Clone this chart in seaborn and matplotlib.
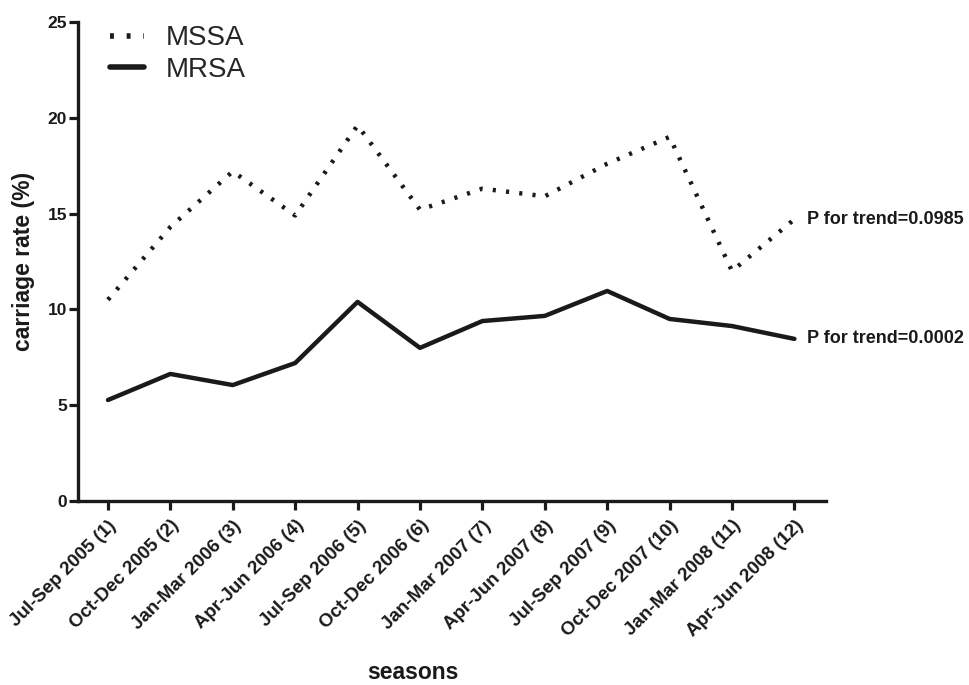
import pandas as pd
import seaborn as sns
import matplotlib.pyplot as plt

seasons = [
    "Jul-Sep 2005 (1)", "Oct-Dec 2005 (2)", "Jan-Mar 2006 (3)", "Apr-Jun 2006 (4)",
    "Jul-Sep 2006 (5)", "Oct-Dec 2006 (6)", "Jan-Mar 2007 (7)", "Apr-Jun 2007 (8)",
    "Jul-Sep 2007 (9)", "Oct-Dec 2007 (10)", "Jan-Mar 2008 (11)", "Apr-Jun 2008 (12)",
]
mssa = [10.5, 14.3, 17.2, 14.9, 19.6, 15.2, 16.3, 15.9, 17.6, 19.0, 12.0, 14.7]
mrsa = [5.27, 6.63, 6.05, 7.2, 10.39, 7.99, 9.39, 9.66, 10.96, 9.5, 9.13, 8.46]
trend_labels = {"MSSA": "P for trend=0.0985", "MRSA": "P for trend=0.0002"}

df = pd.DataFrame({
    "idx": list(range(len(seasons))) * 2,
    "rate": mssa + mrsa,
    "type": ["MSSA"] * len(seasons) + ["MRSA"] * len(seasons),
})

sns.set_theme(style="ticks")
plt.rcParams["font.family"] = ["Liberation Sans", "DejaVu Sans"]

fig = plt.figure(figsize=(9.69, 6.85), dpi=100)
ax = fig.add_axes([0.0805, 0.2686, 0.7715, 0.6994])

sns.lineplot(
    data=df, x="idx", y="rate", hue="type", style="type",
    palette={"MSSA": "#1a1a1a", "MRSA": "#1a1a1a"},
    dashes={"MSSA": (0.7, 2.3), "MRSA": ""},
    linewidth=3.2, ax=ax,
)
for line in ax.get_lines():
    line.set_dash_capstyle("butt")

# P for trend annotations at the last point
for name, vals in (("MSSA", mssa), ("MRSA", mrsa)):
    ax.text(len(seasons) - 1 + 0.2, vals[-1], trend_labels[name],
            fontsize=13, fontweight="bold", va="center", ha="left",
            color="#1a1a1a", clip_on=False)

ax.set_xlim(-0.48, 11.5)
ax.set_ylim(0, 25)
ax.set_yticks([0, 5, 10, 15, 20, 25])
ax.set_xticks(range(len(seasons)))
ax.set_xticklabels(seasons, rotation=45, ha="right", rotation_mode="anchor",
                   fontsize=13.5, fontweight="bold")
for t in ax.get_yticklabels():
    t.set_fontweight("bold")
    t.set_fontsize(12.5)

ax.tick_params(axis="both", direction="out", length=6.5, width=2.3, color="#1a1a1a",
               labelcolor="#1a1a1a")
ax.tick_params(axis="x", pad=5)
ax.tick_params(axis="y", pad=1.5)
for side in ("left", "bottom"):
    ax.spines[side].set_linewidth(2.4)
    ax.spines[side].set_color("#1a1a1a")
sns.despine(ax=ax)

ax.set_ylabel("carriage rate (%)", fontsize=16.5, fontweight="bold", color="#1a1a1a")
ax.yaxis.set_label_coords(-0.058, 0.5)
ax.set_xlabel("seasons", fontsize=16.5, fontweight="bold", color="#1a1a1a")
ax.xaxis.label.set_va("center")
ax.xaxis.set_label_coords(0.448, -0.358)

leg = ax.legend(loc="upper left", bbox_to_anchor=(0.01, 1.045), frameon=False,
                fontsize=20, handlelength=1.2, handletextpad=0.8, labelspacing=0.2)
for h in leg.get_lines():
    h.set_linewidth(4)

fig.savefig("out.png", dpi=100)
